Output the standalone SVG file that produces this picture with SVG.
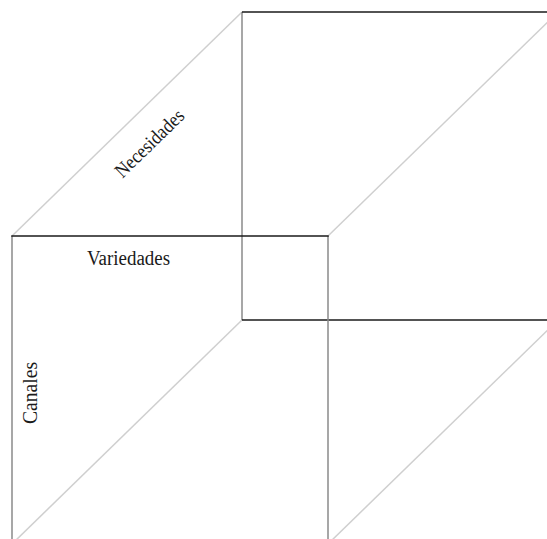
<svg xmlns="http://www.w3.org/2000/svg" width="547" height="539" viewBox="0 0 547 539">
  <style>
    .h { stroke: #1a1a1a; stroke-width: 1.5; fill: none; }
    .v { stroke: #8a8a8a; stroke-width: 1.5; fill: none; }
    .d { stroke: #cfcfcf; stroke-width: 1.5; fill: none; }
    .lbl { font-family: "Liberation Serif", "DejaVu Serif", serif; font-size: 20px; fill: #1a1a1a; text-anchor: middle; }
  </style>
  <rect x="0" y="0" width="547" height="539" fill="#ffffff"/>
  <g id="connectors">
    <line class="d" x1="12" y1="236" x2="242" y2="12"/>
    <line class="d" x1="328" y1="236" x2="558" y2="12"/>
    <line class="d" x1="12" y1="544" x2="242" y2="320"/>
    <line class="d" x1="328" y1="544" x2="558" y2="320"/>
  </g>
  <g id="back-face">
    <line class="v" x1="242" y1="12" x2="242" y2="320"/>
    <line class="h" x1="242" y1="12" x2="548" y2="12"/>
    <line class="h" x1="242" y1="320" x2="548" y2="320"/>
  </g>
  <g id="front-face">
    <line class="v" x1="12" y1="236" x2="12" y2="540"/>
    <line class="v" x1="328" y1="236" x2="328" y2="540"/>
    <line class="h" x1="11.25" y1="236" x2="328.75" y2="236"/>
  </g>
  <g id="labels">
    <text class="lbl" x="128.5" y="264.5" textLength="83" lengthAdjust="spacingAndGlyphs">Variedades</text>
    <text class="lbl" transform="translate(36.5,393) rotate(-90)" x="0" y="0" textLength="62" lengthAdjust="spacingAndGlyphs">Canales</text>
    <text class="lbl" transform="translate(154,148) rotate(-44.2)" x="0" y="0" textLength="88" lengthAdjust="spacingAndGlyphs">Necesidades</text>
  </g>
</svg>
